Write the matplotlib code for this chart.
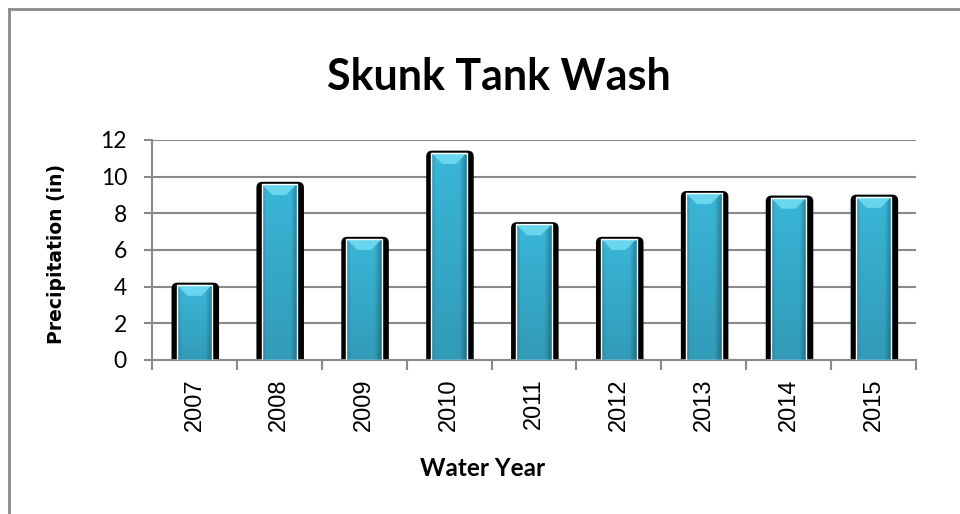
import numpy as np
import matplotlib
matplotlib.use("Agg")
from matplotlib import pyplot as plt
from matplotlib.patches import FancyBboxPatch, Rectangle, Polygon
from matplotlib.lines import Line2D

# water year precipitation, Skunk Tank Wash
years = ['2007', '2008', '2009', '2010', '2011', '2012', '2013', '2014', '2015']
precip = [4.1, 9.6, 6.6, 11.3, 7.4, 6.6, 9.1, 8.85, 8.9]
y_ticks = [0, 2, 4, 6, 8, 10, 12]

grey = '#8a8a8a'

fig = plt.figure(figsize=(9.6, 5.14), dpi=100)
ax = fig.add_axes([152/960, 1 - 360/514, (916-152)/960, 220/514])

n = len(years)
x = np.arange(n)
ax.set_xlim(-0.5, n - 0.5)
ax.set_ylim(0, 12)

# pixels per data unit, for round corners
px_x = (916 - 152) / n
px_y = 220 / 12
aspect = px_x / px_y

# gradient for the bar face: flat middle, darker near the sides and bottom
g = np.linspace(0, 1, 64)
shade = np.ones_like(g)
shade[g < 0.12] = 0.82 + 0.18 * g[g < 0.12] / 0.12
shade[g > 0.8] = 1 - 0.3 * (g[g > 0.8] - 0.8) / 0.2
vert = np.linspace(1.0, 0.85, 64)[:, None]
base = np.array([0x3a, 0xb6, 0xd8]) / 255
img = np.clip(base[None, None, :] * (shade[None, :, None] * vert[:, :, None]), 0, 1)

bw = 0.42
sw = 0.56
for i, v in enumerate(precip):
    # black shadow
    sh = FancyBboxPatch((i - sw/2 + 0.01, -1), sw, v + 1.12,
                        boxstyle='round,pad=0,rounding_size=0.07',
                        mutation_aspect=aspect, fc='black', ec='none', zorder=2)
    ax.add_patch(sh)
    # blue face with gradient
    face = Rectangle((i - bw/2, 0), bw, v, transform=ax.transData)
    im = ax.imshow(img, extent=(i - bw/2, i + bw/2, 0, v), aspect='auto',
                   origin='upper', zorder=3, interpolation='bilinear')
    im.set_clip_path(face)
    # top bevel
    d = 0.6
    top = Polygon([(i - bw/2, v), (i + bw/2, v), (i + bw/2 - 0.13, v - d),
                   (i - bw/2 + 0.13, v - d)], closed=True,
                  fc='#74e0f4', ec='none', alpha=0.8, zorder=4)
    ax.add_patch(top)
    ax.add_patch(Rectangle((i - bw/2, 0), bw, v, fc='none', ec='white',
                           lw=1.0, zorder=5))

ax.set_yticks(y_ticks)
ax.set_yticklabels([str(t) for t in y_ticks], fontfamily='Lato', fontsize=16.5)
ax.yaxis.grid(True, color=grey, lw=1.5, zorder=0)
ax.set_axisbelow(True)

ax.set_xticks(np.arange(-0.5, n, 1.0))
ax.set_xticklabels([])
ax.set_xticks(x, minor=True)
ax.set_xticklabels(years, minor=True, rotation=90, fontfamily='Liberation Sans',
                   fontsize=17)
ax.tick_params(axis='x', which='minor', length=0, pad=13)
ax.tick_params(axis='x', which='major', direction='out', length=7, color=grey, width=1.5)
ax.tick_params(axis='y', direction='out', length=6, color=grey, width=1.5, pad=12)

for s in ['top', 'right']:
    ax.spines[s].set_visible(False)
for s in ['left', 'bottom']:
    ax.spines[s].set_color(grey)
    ax.spines[s].set_linewidth(1.5)

ax.set_ylabel('Precipitation (in)', fontfamily='DejaVu Sans', fontweight='bold',
              fontsize=13.5)
ax.yaxis.set_label_coords((66 - 152) / 764, 0.48)

fig.text(499/960, 1 - 77/514, 'Skunk Tank Wash', ha='center', va='center',
         fontfamily='Lato', fontweight='bold', fontsize=31)
fig.text(483/960, 1 - 469/514, 'Water Year', ha='center', va='center',
         fontfamily='Lato', fontweight='bold', fontsize=17.5)

# chart frame (right and bottom edges fall outside the picture)
fig.add_artist(Line2D([8.5/960, 1], [1 - 8.5/514] * 2, color=grey, lw=2))
fig.add_artist(Line2D([8.5/960] * 2, [0, 1 - 8.5/514], color=grey, lw=2))

fig.savefig('out.png', dpi=100)
